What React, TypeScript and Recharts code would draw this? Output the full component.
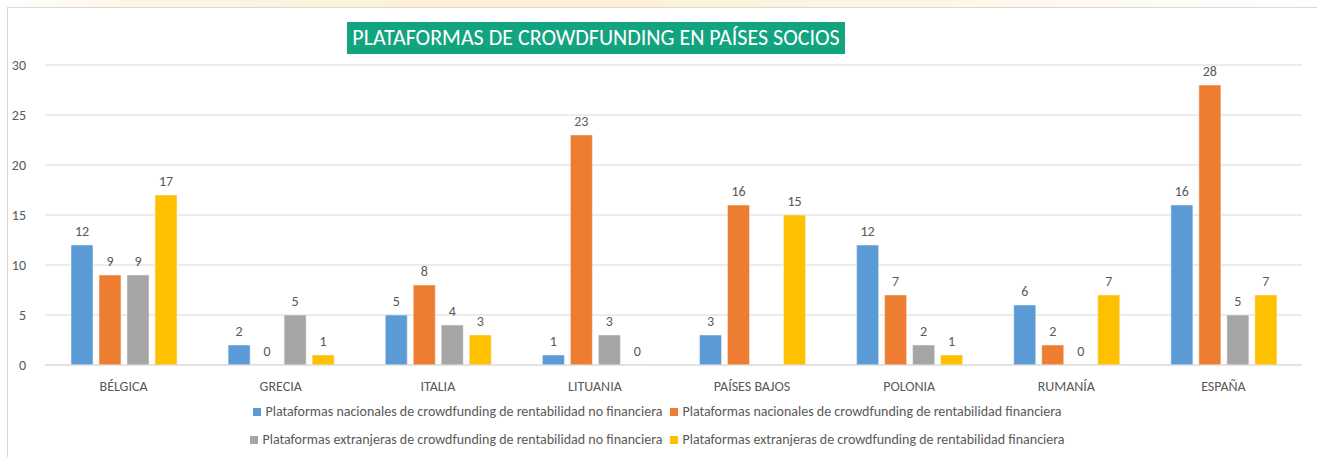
import { BarChart, Bar, XAxis, YAxis, CartesianGrid, LabelList } from "recharts";

const paises = ["BÉLGICA", "GRECIA", "ITALIA", "LITUANIA", "PAÍSES BAJOS", "POLONIA", "RUMANÍA", "ESPAÑA"];
const nacionalesNoFin = [12, 2, 5, 1, 3, 12, 6, 16];
const nacionalesFin = [9, 0, 8, 23, 16, 7, 2, 28];
const extranjerasNoFin: (number | null)[] = [9, 5, 4, 3, null, 2, 0, 5];
const extranjerasFin = [17, 1, 3, 0, 15, 1, 7, 7];
const yTicks = [0, 5, 10, 15, 20, 25, 30];

const series = [
  { key: "nnf", name: "Plataformas nacionales de crowdfunding de rentabilidad no financiera", color: "#5b9bd5" },
  { key: "nf", name: "Plataformas nacionales de crowdfunding de rentabilidad financiera", color: "#ed7d31" },
  { key: "enf", name: "Plataformas extranjeras de crowdfunding de rentabilidad no financiera", color: "#a5a5a5" },
  { key: "ef", name: "Plataformas extranjeras de crowdfunding de rentabilidad financiera", color: "#ffc000" },
];

const data = paises.map((p, i) => ({
  pais: p,
  nnf: nacionalesNoFin[i],
  nf: nacionalesFin[i],
  enf: extranjerasNoFin[i],
  ef: extranjerasFin[i],
}));

const FONT = "Calibri, Carlito, 'Open Sans', 'Liberation Sans', sans-serif";

// zero-valued bars get a hair of height so their "0" label still shows
const minSize = (v: any) => (v === 0 ? 0.1 : 0);

const renderLabel = (props: any) => {
  const { x, y, width, value } = props;
  if (value === null || value === undefined) return null;
  return (
    <text x={x + width / 2} y={y - 9} textAnchor="middle" fill="#595959" fontSize={14} fontFamily={FONT}>
      {value}
    </text>
  );
};

function LegendItem({ name, color }: { name: string; color: string }) {
  return (
    <span style={{ display: "inline-flex", alignItems: "center", marginRight: 8 }}>
      <span style={{ width: 8, height: 8, background: color, marginRight: 4, display: "inline-block" }} />
      <span>{name}</span>
    </span>
  );
}

export default function App() {
  return (
    <div style={{ position: "absolute", left: 0, top: 0, width: 1317, height: 457, background: "#fff", overflow: "hidden" }}>
      <div style={{ position: "absolute", left: 0, top: 0, width: 1317, height: 7, background: "linear-gradient(90deg, #fff 0%, #fdf6e6 10%, #fcefd2 40%, #fdf6e6 70%, #fff 100%)" }} />
      <div style={{ position: "absolute", left: 7, top: 7, width: 1320, height: 460, border: "1px solid #d9d9d9", boxSizing: "border-box" }} />
      <div
        style={{
          position: "absolute",
          left: 347,
          top: 22,
          width: 498,
          height: 32,
          background: "#12a37f",
          color: "#fff",
          fontFamily: FONT,
          fontSize: 22,
          lineHeight: "32px",
          textAlign: "center",
          whiteSpace: "nowrap",
        }}
      >
        PLATAFORMAS DE CROWDFUNDING EN PAÍSES SOCIOS
      </div>
      <div style={{ position: "absolute", left: 0, top: 0 }}>
        <BarChart
          width={1317}
          height={457}
          data={data}
          margin={{ top: 65, right: 15, left: 0, bottom: 62 }}
          barSize={22}
          barGap={6}
        >
          <CartesianGrid vertical={false} stroke="#d9d9d9" />
          <XAxis
            dataKey="pais"
            axisLine={{ stroke: "#d9d9d9" }}
            tickLine={false}
            tick={{ fill: "#595959", fontSize: 14, fontFamily: FONT }}
            tickMargin={10}
          />
          <YAxis
            domain={[0, 30]}
            ticks={yTicks}
            axisLine={false}
            tickLine={false}
            width={45}
            tick={{ fill: "#595959", fontSize: 14, fontFamily: FONT }}
            tickMargin={13}
          />
          {series.map((s) => (
            <Bar
              key={s.key}
              dataKey={s.key}
              name={s.name}
              fill={s.color}
              stroke="#f4f4f4"
              strokeWidth={0.5}
              minPointSize={minSize}
              isAnimationActive={false}
            >
              <LabelList dataKey={s.key} content={renderLabel} />
            </Bar>
          ))}
        </BarChart>
      </div>
      <div
        style={{
          position: "absolute",
          left: 0,
          top: 398,
          width: 1317,
          fontFamily: FONT,
          fontSize: 14,
          color: "#595959",
          textAlign: "center",
          lineHeight: "28px",
        }}
      >
        <div style={{ paddingLeft: 6 }}>
          <LegendItem name={series[0].name} color={series[0].color} />
          <LegendItem name={series[1].name} color={series[1].color} />
        </div>
        <div style={{ paddingLeft: 6 }}>
          <LegendItem name={series[2].name} color={series[2].color} />
          <LegendItem name={series[3].name} color={series[3].color} />
        </div>
      </div>
    </div>
  );
}
